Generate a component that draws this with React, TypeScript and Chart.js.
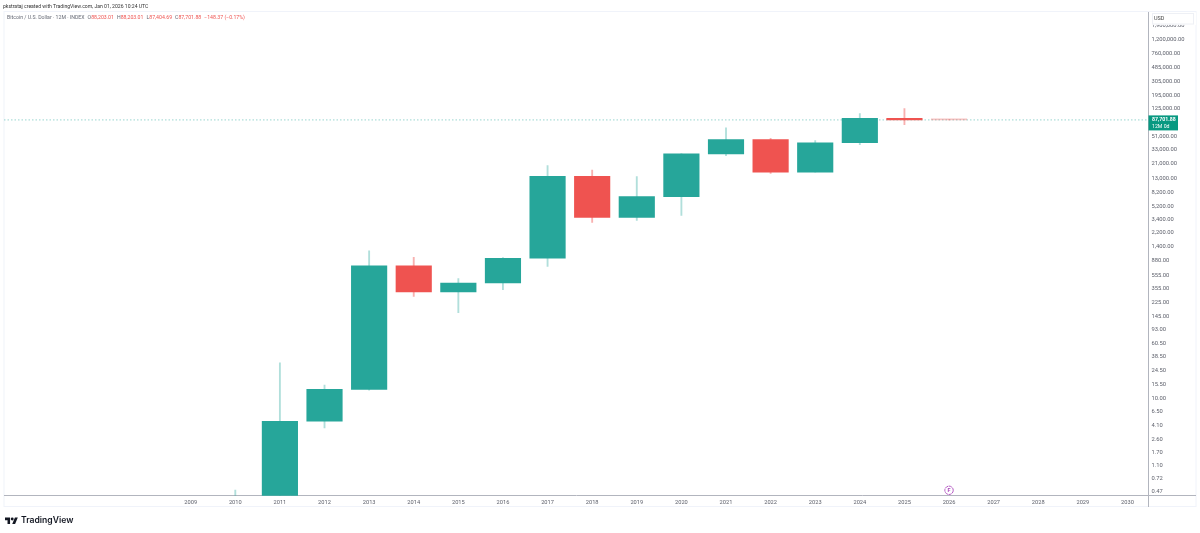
import React, { useEffect, useRef } from "react";
import { Chart, registerables } from "chart.js";

Chart.register(...registerables);

const years = [2010, 2011, 2012, 2013, 2014, 2015, 2016, 2017, 2018, 2019, 2020, 2021, 2022, 2023, 2024, 2025, 2026];
const opens = [0.05, 0.3, 4.72, 13.4, 754, 320, 430, 963, 13880, 3650, 7195, 28949, 46306, 16000, 41670, 92700, 88203.01];
const highs = [0.5, 31.9, 15.4, 1230, 990, 494, 980, 19700, 17100, 13760, 29300, 68000, 48000, 44700, 107400, 126400, 88203.01];
const lows = [0.01, 0.25, 3.8, 13, 277, 163, 345, 738, 3100, 3310, 3900, 27300, 15330, 15900, 39000, 75000, 87404.69];
const closes = [0.3, 4.72, 13.4, 754, 320, 430, 963, 13880, 3650, 7195, 28949, 46306, 16000, 41670, 92700, 87701.88, 87701.88];

const priceTicks = [1900000, 1200000, 760000, 485000, 305000, 195000, 125000, 51000, 33000, 21000, 13000, 8200, 5200, 3400, 2200, 1400, 880, 555, 355, 225, 145, 93, 60.5, 38.5, 24.5, 15.5, 10, 6.5, 4.1, 2.6, 1.7, 1.1, 0.72, 0.47];
const yearTicks = [2009, 2010, 2011, 2012, 2013, 2014, 2015, 2016, 2017, 2018, 2019, 2020, 2021, 2022, 2023, 2024, 2025, 2026, 2027, 2028, 2029, 2030];
const eventYear = 2026;
const lastPrice = 87701.88;

const UP = "#26a69a";
const DOWN = "#ef5350";
const fontFamily = "Roboto, sans-serif";

const fmt = (v: number) => v.toLocaleString("en-US", { minimumFractionDigits: 2, maximumFractionDigits: 2 });

const overlay = {
  id: "overlay",
  beforeDraw(chart: any) {
    const c = chart.ctx;
    c.save();
    c.strokeStyle = "#f0f3fa";
    c.lineWidth = 1;
    c.strokeRect(4, 11.5, 1192, 495);
    c.restore();
  },
  afterDraw(chart: any) {
    const c = chart.ctx;
    const x = chart.scales.x;
    const y = chart.scales.y;
    c.save();
    c.strokeStyle = "#b2b5be";
    c.lineWidth = 1;
    c.beginPath();
    c.moveTo(1148.5, 495);
    c.lineTo(1148.5, 507);
    c.moveTo(1148.5, 495.5);
    c.lineTo(1196, 495.5);
    c.stroke();
    c.fillStyle = "#ffffff";
    c.fillRect(1150, 12.5, 46, 12.4);
    c.strokeStyle = "#eef0f5";
    c.strokeRect(1152.5, 13.5, 41, 10.5);
    c.fillStyle = "#444";
    c.font = `5.5px ${fontFamily}`;
    c.textBaseline = "middle";
    c.textAlign = "left";
    c.fillText("USD", 1154, 19);
    const py = y.getPixelForValue(lastPrice);
    c.fillStyle = "#089981";
    c.fillRect(1148.5, py - 4.5, 29.5, 15);
    c.fillStyle = "#ffffff";
    c.font = `bold 5.2px ${fontFamily}`;
    c.fillText(fmt(lastPrice), 1152, py - 0.4);
    c.font = `5.2px ${fontFamily}`;
    c.fillText("12M 0d", 1152, py + 6.4);
    const ex = x.getPixelForValue(eventYear);
    c.strokeStyle = "#ab47bc";
    c.lineWidth = 0.9;
    c.setLineDash([3.2, 0.6]);
    c.beginPath();
    c.arc(ex, 490.3, 4.2, 0, Math.PI * 2);
    c.stroke();
    c.setLineDash([]);
    c.fillStyle = "#ab47bc";
    c.font = `bold 5.5px ${fontFamily}`;
    c.textAlign = "center";
    c.fillText("F", ex, 490.5);
    c.restore();
  },
};

export default function App() {
  const ref = useRef<HTMLCanvasElement>(null);
  useEffect(() => {
    document.body.style.margin = "0";
    const colors = opens.map((o, i) => (closes[i] >= o ? UP : DOWN));
    const wickColors = opens.map((o, i) => (closes[i] >= o ? "rgba(38,166,154,0.36)" : "rgba(239,83,80,0.45)"));
    const bodyColors = colors.map((c, i) => (i === years.length - 1 ? "rgba(239,83,80,0.35)" : c));
    const xMin = 2004.815;
    const xMax = 2030.46;
    const chart = new Chart(ref.current as HTMLCanvasElement, {
      type: "bar",
      data: {
        datasets: [
          {
            type: "bar",
            order: 1,
            data: years.map((yr, i) => ({ x: yr, y: [opens[i], closes[i]] })),
            backgroundColor: bodyColors,
            barThickness: 35.5,
            minBarLength: 1,
            grouped: false,
          },
          {
            type: "bar",
            order: 2,
            data: years.map((yr, i) => ({ x: yr, y: [lows[i], highs[i]] })),
            backgroundColor: wickColors,
            barThickness: 1.2,
            grouped: false,
          },
          {
            type: "line",
            order: 3,
            data: [
              { x: xMin, y: lastPrice },
              { x: xMax, y: lastPrice },
            ],
            borderColor: "rgba(38,166,154,0.6)",
            borderWidth: 0.8,
            borderDash: [1.5, 2],
            pointRadius: 0,
          },
        ] as any,
      },
      options: {
        responsive: false,
        animation: false,
        devicePixelRatio: 1,
        layout: { padding: { left: 4, top: 12.7, right: 0, bottom: 0 } },
        plugins: { legend: { display: false }, tooltip: { enabled: false } },
        scales: {
          x: {
            type: "linear",
            offset: false,
            min: xMin,
            max: xMax,
            afterBuildTicks: (s: any) => {
              s.ticks = yearTicks.map((value) => ({ value }));
            },
            afterFit: (s: any) => {
              s.height = 37.3;
              s.paddingLeft = 0;
              s.paddingRight = 0;
            },
            grid: { display: false, drawTicks: false, tickLength: 0 },
            border: { display: true, color: "#b2b5be", width: 1 },
            ticks: {
              autoSkip: false,
              maxRotation: 0,
              minRotation: 0,
              padding: 3.5,
              color: "#5c5f6a",
              font: { family: fontFamily, size: 5.7 },
              callback: (v: any) => String(v),
            },
          },
          y: {
            type: "logarithmic",
            position: "right",
            min: 0.4168,
            max: 2895000,
            afterBuildTicks: (s: any) => {
              s.ticks = priceTicks.map((value) => ({ value }));
            },
            afterFit: (s: any) => {
              s.width = 52;
              s.paddingTop = 0;
              s.paddingBottom = 0;
            },
            grid: { display: false, drawTicks: false, tickLength: 0 },
            border: { display: true, color: "#b2b5be", width: 1 },
            ticks: {
              autoSkip: false,
              padding: 3.5,
              color: "#5c5f6a",
              font: { family: fontFamily, size: 5.8 },
              callback: (v: any) => fmt(Number(v)),
            },
          },
        },
      } as any,
      plugins: [overlay],
    });
    return () => chart.destroy();
  }, []);

  const text: React.CSSProperties = {
    position: "absolute",
    fontFamily,
    whiteSpace: "nowrap",
    lineHeight: 1,
  };
  return (
    <div style={{ position: "absolute", left: 0, top: 0, width: 1200, height: 533, background: "#fff", overflow: "hidden" }}>
      <canvas ref={ref} width={1200} height={533} style={{ display: "block", width: 1200, height: 533 }} />
      <div style={{ ...text, left: 3, top: 4, fontSize: 5.1, color: "#333" }}>
        pkstrataj created with TradingView.com, Jan 01, 2026 10:24 UTC
      </div>
      <div style={{ ...text, left: 7, top: 15, fontSize: 5.2, color: "#666a75" }}>
        Bitcoin / U.S. Dollar · 12M · INDEX
        <span style={{ marginLeft: 3 }}>O</span><span style={{ color: DOWN }}>88,203.01</span>
        <span style={{ marginLeft: 3 }}>H</span><span style={{ color: DOWN }}>88,203.01</span>
        <span style={{ marginLeft: 3 }}>L</span><span style={{ color: DOWN }}>87,404.69</span>
        <span style={{ marginLeft: 3 }}>C</span><span style={{ color: DOWN }}>87,701.88</span>
        <span style={{ marginLeft: 3, color: DOWN }}>−148.37 (−0.17%)</span>
      </div>
      <svg viewBox="0 0 36 24" style={{ position: "absolute", left: 4.5, top: 516, width: 13, height: 9 }}>
        <path d="M14 22H7V11H0V4h14v18zM28 22h-8l7.5-18h8L28 22z" fill="#131722" />
        <circle cx="20" cy="8" r="4" fill="#131722" />
      </svg>
      <div style={{ ...text, left: 21, top: 516, fontSize: 8.6, fontWeight: 600, color: "#131722", fontFamily: "Inter, sans-serif" }}>
        TradingView
      </div>
    </div>
  );
}
